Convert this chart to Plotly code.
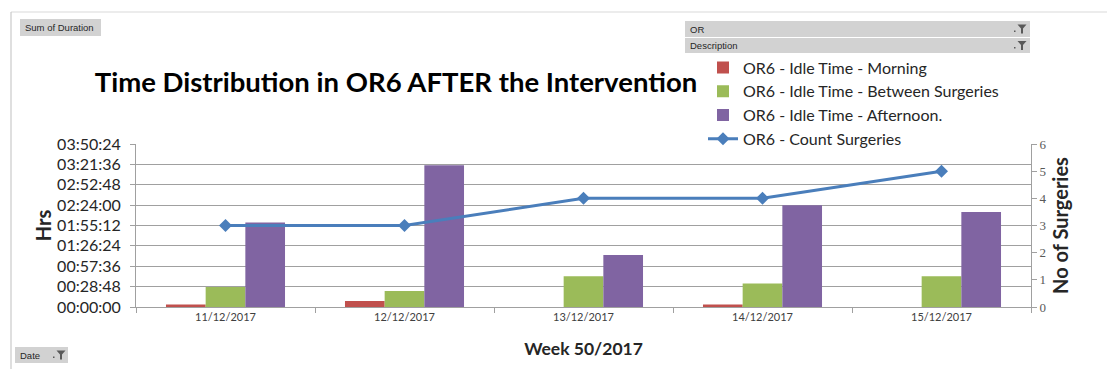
import plotly.graph_objects as go

# ---- data -------------------------------------------------------------
DATES = ["11/12/2017", "12/12/2017", "13/12/2017", "14/12/2017", "15/12/2017"]

# idle time per day, in minutes
IDLE_MORNING = [3.4, 8.5, 0, 3.4, 0]
IDLE_BETWEEN = [28.3, 22.6, 43.4, 33.1, 43.4]
IDLE_AFTERNOON = [119.3, 200.3, 73.5, 143.8, 134.3]

# number of surgeries per day
COUNT_SURGERIES = [3, 3, 4, 4, 5]

TIME_TICK_LABELS = ["00:00:00", "00:28:48", "00:57:36", "01:26:24", "01:55:12",
                    "02:24:00", "02:52:48", "03:21:36", "03:50:24"]
COUNT_TICKS = [0, 1, 2, 3, 4, 5, 6]


def hms_to_minutes(s):
    h, m, sec = (int(p) for p in s.split(":"))
    return h * 60 + m + sec / 60


time_tick_vals = [hms_to_minutes(s) for s in TIME_TICK_LABELS]

# ---- geometry -----------------------------------------------------------
W, H = 1107, 369
L, R, T, B = 136, 76, 144, 62
PW, PH = W - L - R, H - T - B


def fx(x):
    return (x - L) / PW


def fy(y):
    return (H - B - y) / PH


FONT = "Lato"
RED, GREEN, PURPLE, BLUE = "#C0504D", "#9BBB59", "#8064A2", "#4A7EBB"
GRID = "#a0a0a0"

fig = go.Figure()
fig.add_bar(x=DATES, y=IDLE_MORNING, name="OR6 - Idle Time - Morning",
            marker_color=RED, marker_line_width=0)
fig.add_bar(x=DATES, y=IDLE_BETWEEN, name="OR6 - Idle Time - Between Surgeries",
            marker_color=GREEN, marker_line_width=0)
fig.add_bar(x=DATES, y=IDLE_AFTERNOON, name="OR6 - Idle Time - Afternoon.",
            marker_color=PURPLE, marker_line_width=0)
fig.add_scatter(x=DATES, y=COUNT_SURGERIES, name="OR6 - Count Surgeries",
                yaxis="y2", mode="lines+markers",
                line=dict(color=BLUE, width=3),
                marker=dict(symbol="diamond", size=10, color=BLUE))

# ---- pivot-chart field buttons --------------------------------------------
shapes = [
    dict(type="line", xref="paper", yref="paper", x0=fx(11), x1=fx(1107),
         y0=fy(12), y1=fy(12), line=dict(color="#d9d9d9", width=1), layer="below"),
    dict(type="line", xref="paper", yref="paper", x0=fx(11), x1=fx(11),
         y0=fy(12), y1=fy(369), line=dict(color="#bfbfbf", width=1), layer="below"),
]
annotations = []


def button(x0, x1, y0, y1, label, funnel_x=None):
    shapes.append(dict(type="rect", xref="paper", yref="paper",
                       x0=fx(x0), x1=fx(x1), y0=fy(y1), y1=fy(y0),
                       fillcolor="#d2d2d2", line=dict(width=0), layer="below"))
    annotations.append(dict(text=label, xref="paper", yref="paper",
                            x=fx(x0 + 3), y=fy((y0 + y1) / 2), xanchor="left",
                            yanchor="middle", showarrow=False,
                            font=dict(family="Liberation Sans", size=9.5, color="#262626")))
    if funnel_x is not None:
        cy = (y0 + y1) / 2
        top = cy - 4.5
        pts = [(funnel_x - 4.5, top), (funnel_x + 4.5, top), (funnel_x + 1, top + 4),
               (funnel_x + 1, top + 9), (funnel_x - 1, top + 9), (funnel_x - 1, top + 4)]
        path = "M " + " L ".join(f"{fx(a)},{fy(b)}" for a, b in pts) + " Z"
        shapes.append(dict(type="path", xref="paper", yref="paper", path=path,
                           fillcolor="#595959", line=dict(width=0)))
        shapes.append(dict(type="rect", xref="paper", yref="paper",
                           x0=fx(funnel_x - 8), x1=fx(funnel_x - 6.5),
                           y0=fy(top + 7.5), y1=fy(top + 6),
                           fillcolor="#595959", line=dict(width=0)))


button(20, 101, 19, 36, "Sum of Duration")
button(685, 1030, 21, 37, "OR", funnel_x=1022)
button(685, 1030, 38, 53, "Description", funnel_x=1022)
button(15, 68, 347, 363, "Date", funnel_x=61)

fig.update_layout(
    width=W, height=H,
    margin=dict(l=L, r=R, t=T, b=B, pad=0),
    paper_bgcolor="white", plot_bgcolor="white",
    font=dict(family=FONT, color="#262626"),
    barmode="group", bargap=0.335, bargroupgap=0,
    title=dict(text="<b>Time Distribution in OR6 AFTER the Intervention</b>",
               x=fx(396), xref="paper", xanchor="center",
               y=1 - 82 / H, yref="container", yanchor="middle",
               font=dict(family=FONT, size=27.5, color="black")),
    xaxis=dict(type="category", tickson="boundaries", ticks="outside", ticklen=5,
               tickcolor=GRID, showline=True, linecolor=GRID, linewidth=1,
               showgrid=False, tickfont=dict(size=11, color="#404040"),
               title=dict(text="<b>Week 50/2017</b>", standoff=20,
                          font=dict(size=17.5, color="#262626"))),
    yaxis=dict(range=[0, time_tick_vals[-1] + 1e-6], tickvals=time_tick_vals,
               ticktext=TIME_TICK_LABELS, ticks="outside", ticklen=5,
               tickcolor=GRID, showline=True, linecolor=GRID, showgrid=True,
               gridcolor=GRID, gridwidth=1.2, zeroline=False, ticklabelstandoff=6,
               tickfont=dict(size=16, color="#262626"),
               title=dict(text="<b>Hrs</b>", standoff=0,
                          font=dict(size=20, color="#262626"))),
    yaxis2=dict(overlaying="y", side="right", range=[0, 6], tickvals=COUNT_TICKS,
                ticks="outside", ticklen=5, tickcolor=GRID, showline=True,
                linecolor=GRID, showgrid=False, zeroline=False,
                tickfont=dict(family="Liberation Serif", size=13, color="#595959"),
                title=dict(text="<b>No of Surgeries</b>", standoff=8,
                           font=dict(size=20, color="#262626"))),
    legend=dict(x=fx(703), y=fy(50.5), xanchor="left", yanchor="top",
                bgcolor="rgba(0,0,0,0)", font=dict(size=16, color="#262626"),
                tracegroupgap=0, itemwidth=30),
    shapes=shapes, annotations=annotations,
)

fig.write_html("out.html")
